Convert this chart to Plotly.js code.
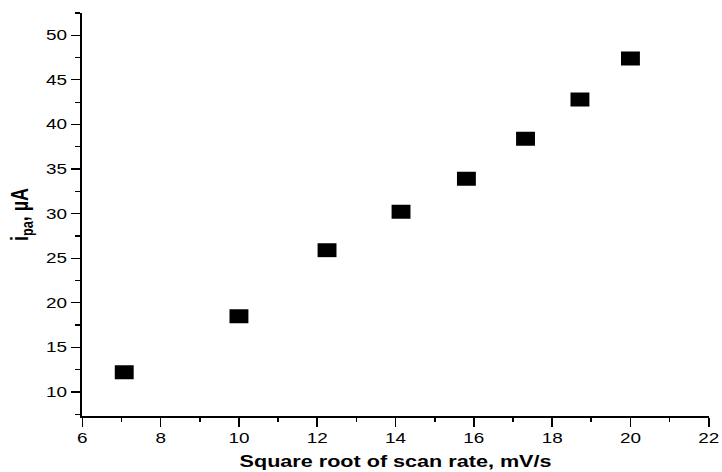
<!DOCTYPE html>
<html>
<head>
<meta charset="utf-8">
<script src="https://cdn.plot.ly/plotly-3.0.1.min.js"></script>
<style>
  html, body { margin: 0; padding: 0; background: #fff; overflow: hidden; }
  /* The figure is laid out narrower and then widened horizontally,
     which gives the wide rectangular markers and broad lettering. */
  #chart { width: 550px; height: 472px; transform: scaleX(1.35); transform-origin: 0 0; }
</style>
</head>
<body>
<div id="chart"></div>
<script>
// Square root of scan rate (mV/s) and anodic peak current (µA)
const sqrtScanRate = [7.07, 10.0, 12.25, 14.14, 15.81, 17.32, 18.71, 20.0];
const peakCurrent  = [12.2, 18.5, 25.9, 30.2, 33.9, 38.4, 42.8, 47.4];

const xTickValues = [6, 8, 10, 12, 14, 16, 18, 20, 22];
const yTickValues = [10, 15, 20, 25, 30, 35, 40, 45, 50];

const fontFamily = '"Liberation Sans", Arial, sans-serif';

const trace = {
  x: sqrtScanRate,
  y: peakCurrent,
  type: 'scatter',
  mode: 'markers',
  marker: { symbol: 'square', size: 14, color: '#000000', line: { width: 0 } },
  hoverinfo: 'x+y'
};

const layout = {
  width: 550,
  height: 472,
  margin: { l: 60.5, r: 24.5, t: 12.7, b: 56 },
  paper_bgcolor: '#ffffff',
  plot_bgcolor: '#ffffff',
  showlegend: false,
  font: { family: fontFamily, color: '#000000', size: 14 },
  xaxis: {
    range: [6, 22],
    tickmode: 'array',
    tickvals: xTickValues,
    ticktext: xTickValues.map(String),
    ticklabeloverflow: 'allow',
    ticks: 'outside',
    ticklen: 9,
    tickwidth: 1.2,
    tickcolor: '#000000',
    minor: { dtick: 1, ticks: 'outside', ticklen: 4, tickwidth: 1.2, tickcolor: '#000000', showgrid: false },
    showline: true,
    linecolor: '#000000',
    linewidth: 1.5,
    showgrid: false,
    zeroline: false,
    tickfont: { family: fontFamily, size: 14, color: '#000000' },
    title: {
      text: '<b>Square root of scan rate, mV/s</b>',
      font: { family: fontFamily, size: 16, color: '#000000' },
      standoff: 10
    }
  },
  yaxis: {
    range: [7.3, 52.5],
    tickmode: 'array',
    tickvals: yTickValues,
    ticktext: yTickValues.map(String),
    ticks: 'outside',
    ticklen: 7,
    tickwidth: 1.2,
    tickcolor: '#000000',
    minor: { dtick: 2.5, ticks: 'outside', ticklen: 4, tickwidth: 1.2, tickcolor: '#000000', showgrid: false },
    showline: true,
    linecolor: '#000000',
    linewidth: 1.5,
    showgrid: false,
    zeroline: false,
    tickfont: { family: fontFamily, size: 14, color: '#000000' },
    title: {
      text: '<b>i<sub>pa</sub>, µA</b>',
      font: { family: fontFamily, size: 18, color: '#000000' },
      standoff: 8
    }
  }
};

Plotly.newPlot('chart', [trace], layout, { displayModeBar: false, staticPlot: true });
</script>
</body>
</html>
